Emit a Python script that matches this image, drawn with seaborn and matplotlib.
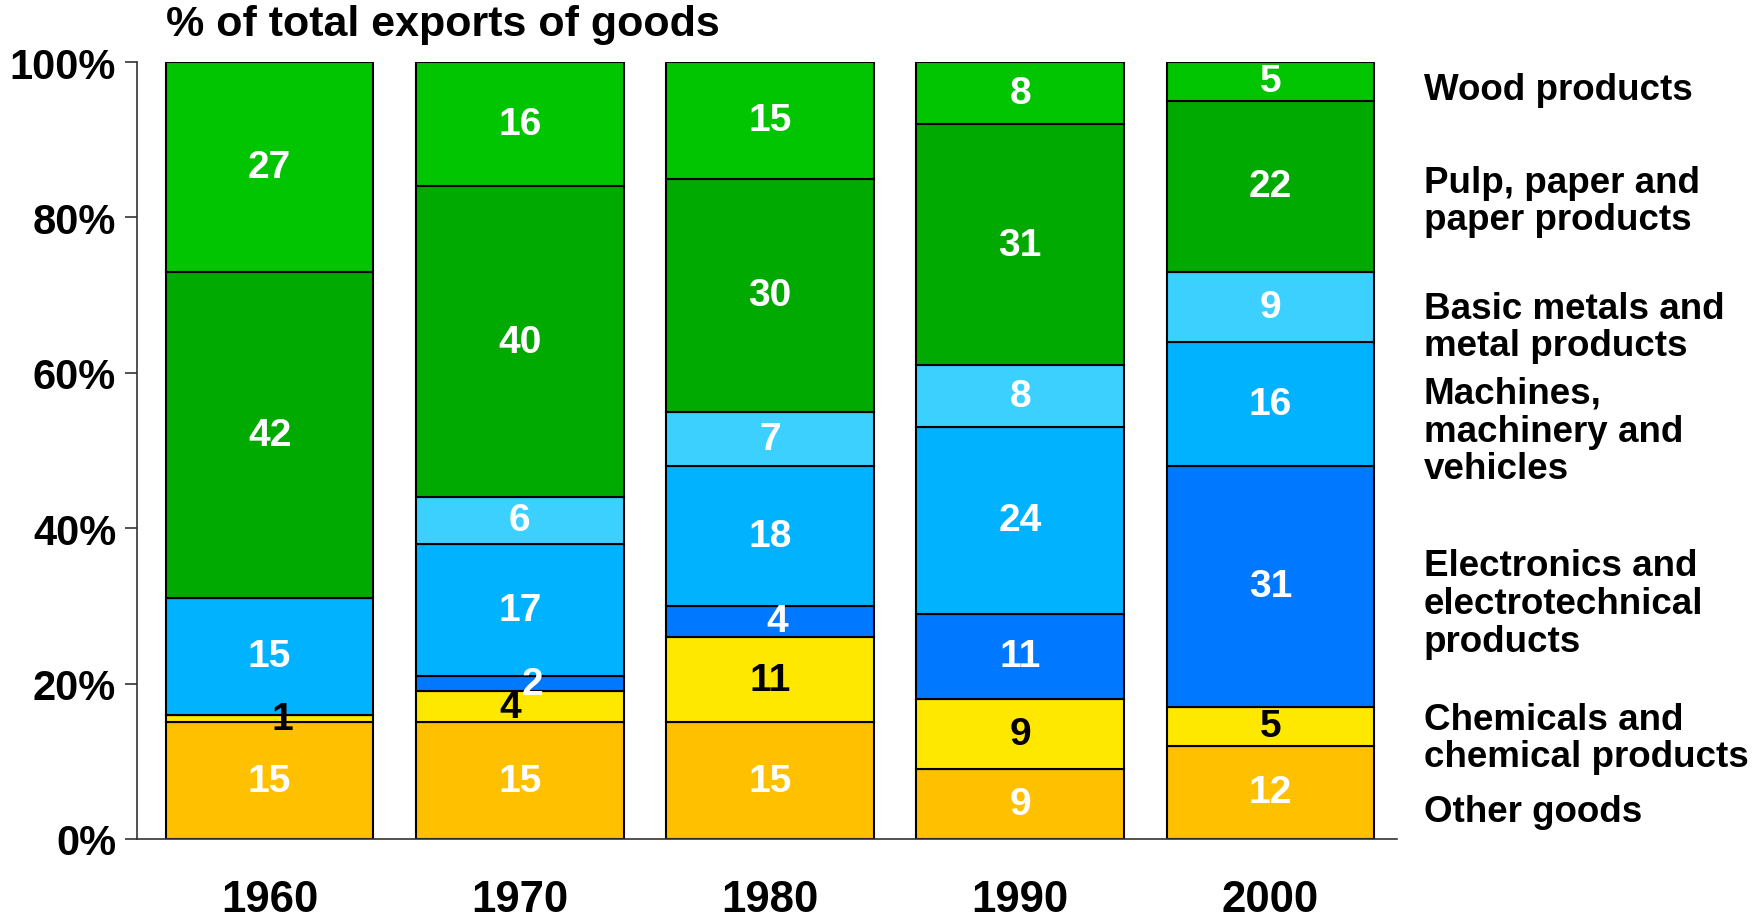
import numpy as np
import pandas as pd
import matplotlib
matplotlib.use("Agg")
import matplotlib.pyplot as plt
import seaborn as sns

years = ["1960", "1970", "1980", "1990", "2000"]

# bottom to top
other_goods = [15, 15, 15, 9, 12]
chemicals = [1, 4, 11, 9, 5]
electronics = [0, 2, 4, 11, 31]
machines = [15, 17, 18, 24, 16]
basic_metals = [0, 6, 7, 8, 9]
pulp_paper = [42, 40, 30, 31, 22]
wood = [27, 16, 15, 8, 5]

series_names = ["Other goods", "Chemicals and\nchemical products",
                "Electronics and\nelectrotechnical\nproducts",
                "Machines,\nmachinery and\nvehicles",
                "Basic metals and\nmetal products",
                "Pulp, paper and\npaper products", "Wood products"]
series_vals = [other_goods, chemicals, electronics, machines,
               basic_metals, pulp_paper, wood]
colors = ["#FFC000", "#FFE800", "#0078FF", "#00B2FF", "#3CD0FF",
          "#00AA00", "#00C500"]
label_colors = ["white", "black", "white", "white", "white", "white", "white"]
legend_y = [3.5, 13.0, 30.3, 52.5, 65.9, 82.1, 96.5]

# small sideways nudges of crowded labels (series index, year index)
nudge = {(1, 0): 0.05, (1, 1): -0.04, (2, 1): 0.05, (2, 2): 0.03}

sns.set_style("white")
plt.rcParams['font.family'] = ['Liberation Sans', 'DejaVu Sans']
plt.rcParams['text.color'] = 'black'
plt.rcParams['xtick.color'] = 'black'
plt.rcParams['ytick.color'] = 'black'

fig = plt.figure(figsize=(17.57, 9.2), dpi=100)
ax = fig.add_axes([0.078, 0.087, 0.717, 0.8445])

bottom = np.zeros(len(years))
for k, (vals, col, lc) in enumerate(zip(series_vals, colors, label_colors)):
    df = pd.DataFrame({"year": years, "share": vals})
    sns.barplot(data=df, x="year", y="share", order=years, color=col,
                saturation=1, width=0.83, edgecolor="black", linewidth=1.5,
                bottom=bottom, ax=ax, errorbar=None)
    for i, v in enumerate(vals):
        if v > 0:
            ax.text(i + nudge.get((k, i), 0), bottom[i] + v / 2, str(v),
                    ha="center", va="center", color=lc, fontsize=28,
                    fontweight="bold")
    bottom = bottom + np.array(vals)

for name, y in zip(series_names, legend_y):
    ax.annotate(name, xy=(1.0214, y), xycoords=("axes fraction", "data"),
                ha="left", va="center", fontsize=26.5, fontweight="bold",
                linespacing=1.1, annotation_clip=False)

ax.set_xlim(-0.53, 4.505)
ax.set_ylim(0, 100)
ax.set_yticks([0, 20, 40, 60, 80, 100])
ax.set_yticklabels([f"{t}%" for t in range(0, 101, 20)])
ax.set_xlabel("")
ax.set_ylabel("")
ax.tick_params(axis="y", length=9, width=1.2, direction="out", left=True,
               labelsize=30, pad=6, color="#333333")
ax.tick_params(axis="x", length=0, labelsize=31.5, pad=29)
for lab in ax.get_xticklabels() + ax.get_yticklabels():
    lab.set_fontweight("bold")
for s in ["top", "right"]:
    ax.spines[s].set_visible(False)
for s in ["left", "bottom"]:
    ax.spines[s].set_color("#333333")
    ax.spines[s].set_linewidth(1.2)

fig.text(0.0945, 0.973, "% of total exports of goods", ha="left", va="center",
         fontsize=31, fontweight="bold")

fig.savefig("out.png", dpi=100)
